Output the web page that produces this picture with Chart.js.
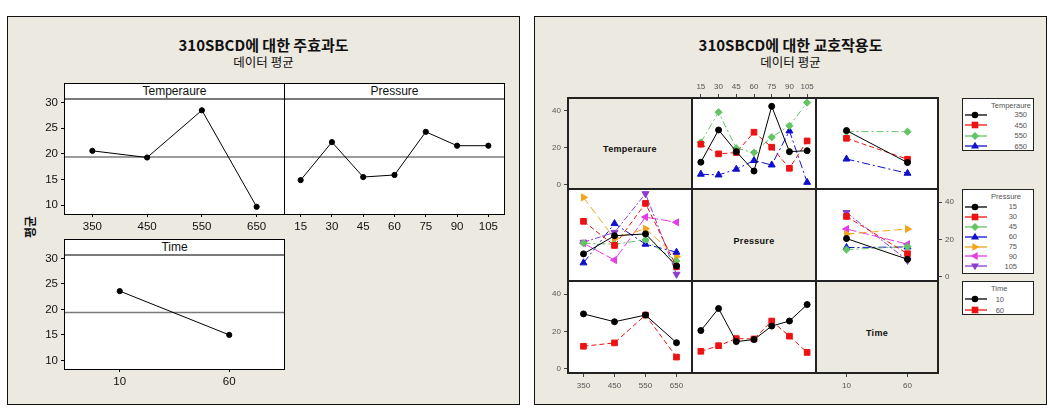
<!DOCTYPE html>
<html><head><meta charset="utf-8">
<script src="https://cdn.jsdelivr.net/npm/chart.js@4.4.1/dist/chart.umd.min.js"></script>
<style>
body{margin:0;width:1054px;height:419px;background:#fff;position:relative;overflow:hidden;font-family:"Liberation Sans",Arial,sans-serif}
.a{position:absolute}
.panel{position:absolute;background:#ECE9E0;border:1.5px solid #111;box-sizing:border-box}
.ttl{position:absolute;text-align:center;font-family:"Noto Sans CJK KR",sans-serif;color:#111;white-space:nowrap}
.box{position:absolute;background:#fff;border:1px solid #000;box-sizing:border-box}
.strip{position:absolute;box-sizing:border-box;border-bottom:2px solid #7a7a7a;text-align:center;font-family:"Liberation Sans",Arial,sans-serif;font-size:12px;line-height:15px;color:#111}
.cell{position:absolute}
.hl{position:absolute;background:#222}
.clab{position:absolute;text-align:center;font-weight:bold;font-size:9px;letter-spacing:0.3px;color:#111}
.leg{position:absolute;background:#fff;border:1px solid #222;box-sizing:border-box}
.lt{position:absolute;font-size:7.5px;color:#555;white-space:nowrap;line-height:9px}
</style></head><body>
<script>
// ---------- DATA ----------
const tempLevels = ['350','450','550','650'];
const pressLevels = ['15','30','45','60','75','90','105'];
const timeLevels = ['10','60'];

// main effects (data means)
const tempMeans  = [20.6, 19.3, 28.5, 9.7];
const pressMeans = [14.9, 22.3, 15.5, 15.9, 24.3, 21.6, 21.6];
const timeMeans  = [23.6, 15.0];
const grandMean  = 19.4;
const mainTicks  = [10, 15, 20, 25, 30];

// interaction: Temperature x Pressure (one array per temperature, over pressure levels)
const tp350 = [12.3, 29.7, 18.0, 7.5, 42.5, 18.0, 18.5];
const tp450 = [22.0, 16.8, 17.5, 28.5, 20.4, 9.0, 23.8];
const tp550 = [23.0, 39.3, 19.8, 17.5, 25.8, 32.0, 44.5];
const tp650 = [5.8, 5.4, 8.5, 13.2, 10.8, 29.2, 1.4];
// interaction: Temperature x Time (per temperature, over time levels)
const tt350 = [29.4, 12.1];
const tt450 = [25.2, 13.9];
const tt550 = [28.8, 28.8];
const tt650 = [14.0, 6.3];
// interaction: Time x Pressure (per time, over pressure levels)
const tm10 = [20.5, 32.3, 14.6, 15.7, 22.9, 25.6, 34.4];
const tm60 = [9.4, 12.4, 16.2, 16.0, 25.6, 17.5, 8.8];
const interTicks = [0, 20, 40];

// ---------- STYLES ----------
const ST = {
  k:{c:'#000000', dash:[], ps:'circle', r:3},
  r:{c:'#EE1111', dash:[5,3], ps:'rect', r:4},
  g:{c:'#62C462', dash:[7,3,2,3], ps:'rectRot', r:3.6},
  b:{c:'#1010CC', dash:[8,3,2,3], ps:'triangle', r:4},
  o:{c:'#F2A51A', dash:[8,4], ps:'triangle', rot:90, r:4},
  m:{c:'#E63CE6', dash:[10,3], ps:'triangle', rot:-90, r:4},
  p:{c:'#8A3CCF', dash:[6,2,2,2], ps:'triangle', rot:180, r:4}
};
const tempSt = [ST.k, ST.r, ST.g, ST.b];
const pressSt = [ST.k, ST.r, ST.g, ST.b, ST.o, ST.m, ST.p];
const timeSt = [ST.k, ST.r];

// ---------- LAYOUT HELPERS ----------
function el(cls, css, html){const d=document.createElement('div');d.className=cls;d.style.cssText=css;if(html!==undefined)d.innerHTML=html;document.body.appendChild(d);return d;}
const PAD = 50;
function mk(area, cfg, ax){
  ax = ax||{};
  const c=document.createElement('canvas');
  const w=area.r-area.l+2*PAD, h=area.b-area.t+2*PAD;
  c.width=w;c.height=h;
  c.style.cssText=`position:absolute;left:${area.l-PAD}px;top:${area.t-PAD}px;width:${w}px;height:${h}px;z-index:${ax.z||2}`;
  document.body.appendChild(c);
  cfg.options.responsive=false;
  cfg.options.animation=false;
  cfg.options.devicePixelRatio=1;
  cfg.options.layout={padding:{left:PAD-(ax.left||0),right:PAD-(ax.right||0),top:PAD-(ax.top||0),bottom:PAD-(ax.bottom||0)}};
  cfg.options.plugins={legend:{display:false},tooltip:{enabled:false}};
  return new Chart(c,cfg);
}
function fitW(v){return s=>{s.width=v;};}
function fitH(v){return s=>{s.height=v;};}
function noop(){}

// ---------- PANELS ----------
el('panel','left:7px;top:16px;width:513px;height:389px');
el('panel','left:534px;top:16px;width:513px;height:389px');
el('ttl','left:7px;width:513px;top:35px;font-size:15px;line-height:20px;font-weight:bold','310SBCD에 대한 주효과도');
el('ttl','left:7px;width:513px;top:54px;font-size:12.5px;line-height:16px','데이터 평균');
el('ttl','left:534px;width:513px;top:35px;font-size:15px;line-height:20px;font-weight:bold','310SBCD에 대한 교호작용도');
el('ttl','left:534px;width:513px;top:54px;font-size:12.5px;line-height:16px','데이터 평균');
el('ttl','left:14px;top:219px;width:32px;font-size:12px;line-height:16px;font-weight:bold;transform:rotate(-90deg)','평균');

// ---------- MAIN EFFECTS ----------
const mainFont={family:'"Liberation Sans",Arial,sans-serif',size:11.5};
function mainChart(area, labels, values, showY){
  const cfg={type:'line',data:{labels:labels,datasets:[
    {data:values,borderColor:'#000',backgroundColor:'#000',borderWidth:1,pointRadius:2.6,pointStyle:'circle',tension:0,xAxisID:'x',yAxisID:'y'},
    {data:[{x:0,y:grandMean},{x:1,y:grandMean}],borderColor:'#7a7a7a',borderWidth:1.6,pointRadius:0,xAxisID:'xm',yAxisID:'y'}
  ]},options:{scales:{
    x:{type:'category',offset:true,position:'bottom',grid:{display:true,drawOnChartArea:false,drawTicks:true,tickLength:3,color:'#000'},border:{display:false},
       ticks:{font:mainFont,color:'#111',padding:3,maxRotation:0,autoSkip:false},afterFit:fitH(24)},
    xm:{type:'linear',display:false,min:0,max:1},
    y:{type:'linear',min:8.3,max:30.5,display:showY,position:'left',grid:{display:true,drawOnChartArea:false,drawTicks:true,tickLength:4,color:'#000'},border:{display:false},
       afterBuildTicks:s=>{s.ticks=mainTicks.map(v=>({value:v}));},
       ticks:{font:mainFont,color:'#111',padding:3},afterFit:showY?fitW(40):noop}
  }}};
  return mk(area,cfg,{left:showY?40:0,bottom:24});
}
// boxes
el('box','left:64px;top:83px;width:221px;height:132px');
el('box','left:284px;top:83px;width:221px;height:132px');
el('box','left:64px;top:239px;width:221px;height:131px');
el('strip','left:65px;top:84px;width:219px;height:16px','Temperaure');
el('strip','left:285px;top:84px;width:219px;height:16px','Pressure');
el('strip','left:65px;top:240px;width:219px;height:16px','Time');
mainChart({l:65,r:284,t:100,b:214}, tempLevels, tempMeans, true);
mainChart({l:285,r:504,t:100,b:214}, pressLevels, pressMeans, false);
mainChart({l:65,r:284,t:256,b:369}, timeLevels, timeMeans, true);

// ---------- INTERACTION MATRIX ----------
const colX=[568,692,816,938], rowY=[98,189,281,373];
const bg='#ECE9E0';
for(let r=0;r<3;r++)for(let c=0;c<3;c++){
  el('cell',`left:${colX[c]}px;top:${rowY[r]}px;width:${colX[c+1]-colX[c]}px;height:${rowY[r+1]-rowY[r]}px;background:${r===c?bg:'#fff'}`);
}
for(const x of colX) el('hl',`left:${x-1}px;top:${rowY[0]-1}px;width:2px;height:${rowY[3]-rowY[0]+2}px;z-index:5`);
for(const y of rowY) el('hl',`left:${colX[0]-1}px;top:${y-1}px;width:${colX[3]-colX[0]+2}px;height:2px;z-index:5`);
el('clab',`left:${colX[0]}px;width:124px;top:143px;line-height:12px`,'Temperaure');
el('clab',`left:${colX[1]}px;width:124px;top:235px;line-height:12px`,'Pressure');
el('clab',`left:${colX[2]}px;width:122px;top:327px;line-height:12px`,'Time');

const smallFont={family:'"Liberation Sans",Arial,sans-serif',size:8};
function xScale(labels,show,pos){
  return {type:'category',labels:labels,offset:true,display:show,position:pos||'bottom',
    grid:{display:true,drawOnChartArea:false,drawTicks:true,tickLength:4,color:'#444'},border:{display:false},
    ticks:{font:smallFont,color:'#555',padding:pos==='top'?2:4,maxRotation:0,autoSkip:false},afterFit:show?fitH(20):noop};
}
function yScale(show,pos){
  return {type:'linear',min:-2.2,max:47,display:show,position:pos||'left',
    grid:{display:true,drawOnChartArea:false,drawTicks:true,tickLength:4,color:'#444'},border:{display:false},
    afterBuildTicks:s=>{s.ticks=interTicks.map(v=>({value:v}));},
    ticks:{font:smallFont,color:'#555',padding:3},afterFit:show?fitW(30):noop};
}
function lines(arrs, styles){
  return arrs.map((d,i)=>{const s=styles[i];return {data:d,borderColor:s.c,backgroundColor:s.c,borderWidth:1,borderDash:s.dash,
    pointStyle:s.ps,pointRotation:s.rot||0,pointRadius:s.r,pointBorderWidth:1,tension:0};});
}
function transpose(m){return m[0].map((_,j)=>m.map(row=>row[j]));}
function area(r,c){return {l:colX[c],r:colX[c+1],t:rowY[r],b:rowY[r+1]};}
function inter(r,c,labels,arrs,styles,o){
  o=o||{};
  const cfg={type:'line',data:{labels:labels,datasets:lines(arrs,styles)},options:{scales:{
    x:xScale(labels,!!o.xpos,o.xpos),y:yScale(!!o.ypos,o.ypos)}}};
  return mk(area(r,c),cfg,{left:o.ypos==='left'?30:0,right:o.ypos==='right'?30:0,top:o.xpos==='top'?20:0,bottom:o.xpos==='bottom'?20:0});
}
const TP=[tp350,tp450,tp550,tp650], TT=[tt350,tt450,tt550,tt650], TM=[tm10,tm60];
inter(0,0,tempLevels,[],[], {ypos:'left'});
inter(0,1,pressLevels,TP,tempSt,{xpos:'top'});
inter(0,2,timeLevels,TT,tempSt,{});
inter(1,0,tempLevels,transpose(TP),pressSt,{});
inter(1,1,pressLevels,[],[],{});
inter(1,2,timeLevels,transpose(TM),pressSt,{ypos:'right'});
inter(2,0,tempLevels,transpose(TT),timeSt,{ypos:'left',xpos:'bottom'});
inter(2,1,pressLevels,TM,timeSt,{});
inter(2,2,timeLevels,[],[],{xpos:'bottom'});

// ---------- LEGENDS ----------
function markerSvg(s){
  const cx=11, cy=5, c=s.c;
  let shape='';
  if(s.ps==='circle') shape=`<circle cx="${cx}" cy="${cy}" r="3.3" fill="${c}"/>`;
  else if(s.ps==='rect') shape=`<rect x="${cx-3.3}" y="${cy-3.3}" width="6.6" height="6.6" fill="${c}"/>`;
  else if(s.ps==='rectRot') shape=`<polygon points="${cx},${cy-4} ${cx+4},${cy} ${cx},${cy+4} ${cx-4},${cy}" fill="${c}"/>`;
  else { const rot=s.rot||0; shape=`<polygon transform="rotate(${rot} ${cx} ${cy})" points="${cx},${cy-4.3} ${cx+4},${cy+2.6} ${cx-4},${cy+2.6}" fill="${c}"/>`; }
  return `<svg width="24" height="10" style="position:absolute;left:0;top:0"><line x1="1" y1="${cy}" x2="23" y2="${cy}" stroke="${c}" stroke-width="1.3"/>${shape}</svg>`;
}
function legend(top,h,title,labels,styles,y0,dy,valRight){
  el('leg',`left:962px;top:${top}px;width:72px;height:${h}px`);
  el('lt',`left:991px;top:${top+3}px`,title);
  labels.forEach((lab,i)=>{
    const y=y0+i*dy;
    const d=el('a',`left:964px;top:${y-5}px;width:24px;height:10px`);
    d.innerHTML=markerSvg(styles[i]);
    el('lt',`left:${valRight-30}px;width:30px;text-align:right;top:${y-4.5}px`,lab);
  });
}
legend(98,53,'Temperaure',tempLevels,tempSt,114.5,10.5,1027);
legend(189,85,'Pressure',pressLevels,pressSt,206.7,9.95,1017);
legend(281,34,'Time',timeLevels,timeSt,299,11,1004);
</script>
</body></html>
